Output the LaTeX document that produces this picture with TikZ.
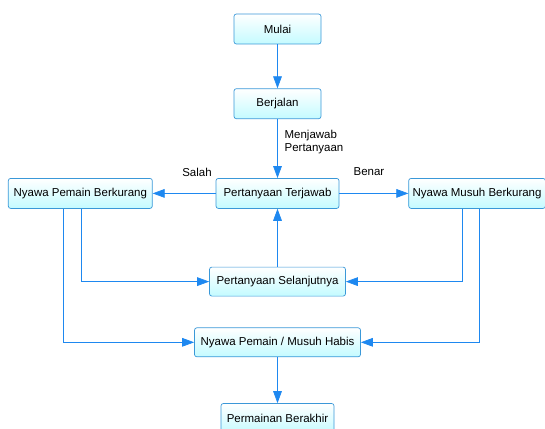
\documentclass[tikz,border=0pt]{standalone}
\usepackage{fontspec}
\setmainfont{Liberation Sans}
\usepackage{xcolor}
\definecolor{cLine}{HTML}{1E88F0}
\definecolor{cBorder}{HTML}{3A98D8}
\definecolor{cFill}{HTML}{C4FBFF}
\usetikzlibrary{positioning,arrows.meta,calc}
\tikzset{
  node-box/.style={draw=cBorder,semithick,rounded corners=2pt,
    top color=white,bottom color=cFill,
    minimum height=9mm,align=center,font=\fontsize{9.8}{11.5}\selectfont},
  arrow/.style={-{Triangle[length=3.6mm,width=2.6mm]},semithick,draw=cLine},
  lbl/.style={font=\fontsize{9.8}{11.5}\selectfont,align=left,inner sep=1pt},
}

\begin{document}
\begin{tikzpicture}
  \useasboundingbox (0,0) rectangle (16.35,12.84);

  \node[node-box,minimum width=26.1mm] (mulai) at (8.325,11.97) {Mulai};
  \node[node-box,minimum width=26.1mm,below=13.2mm of mulai] (jalan) {Berjalan};
  \node[node-box,minimum width=36.9mm,below=17.7mm of jalan] (jawab) {Pertanyaan Terjawab};
  \node[node-box,minimum width=43.2mm,left=18.9mm of jawab] (pemain) {Nyawa Pemain Berkurang};
  \node[node-box,minimum width=40.5mm,right=20.7mm of jawab] (musuh) {Nyawa Musuh Berkurang};
  \node[node-box,minimum width=40.8mm,minimum height=8.7mm,below=17.4mm of jawab] (lanjut) {Pertanyaan Selanjutnya};
  \node[node-box,minimum width=49.8mm,minimum height=8.7mm,below=9.3mm of lanjut] (habis) {Nyawa Pemain / Musuh Habis};
  \node[node-box,minimum width=33.9mm,below=13.8mm of habis] (akhir) {Permainan Berakhir};

  \draw[arrow] (mulai) -- (jalan);
  \draw[arrow] (jalan) -- (jawab);
  \draw[arrow] (jawab) -- (pemain);
  \draw[arrow] (jawab) -- (musuh);
  \draw[arrow] (lanjut) -- (jawab);
  \draw[arrow] ($(pemain.south)+(0.03,0)$) |- (lanjut);
  \draw[arrow] ($(pemain.south)+(-0.51,0)$) |- (habis);
  \draw[arrow] ($(musuh.south)+(-0.435,0)$) |- (lanjut);
  \draw[arrow] ($(musuh.south)+(0.075,0)$) |- (habis);
  \draw[arrow] (habis) -- (akhir);

  \node[lbl] (l-jawab) at (9.42,8.58) {Menjawab\\Pertanyaan};
  \node[lbl] (l-salah) at (5.91,7.68) {Salah};
  \node[lbl] (l-benar) at (11.07,7.68) {Benar};
\end{tikzpicture}
\end{document}
